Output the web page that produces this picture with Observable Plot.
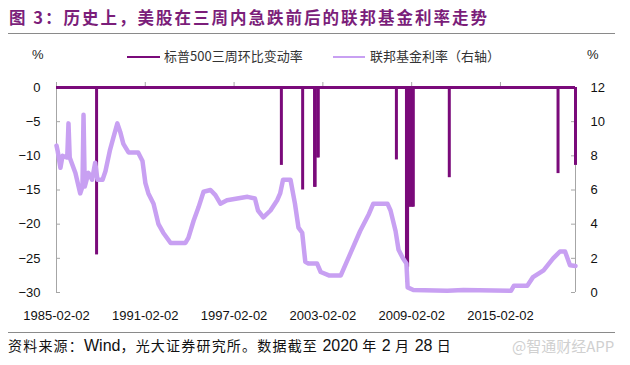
<!DOCTYPE html>
<html>
<head>
<meta charset="utf-8">
<script src="https://cdn.jsdelivr.net/npm/d3@7"></script>
<script src="https://cdn.jsdelivr.net/npm/@observablehq/plot@0.6"></script>
<style>
  html, body { margin: 0; padding: 0; background: #fff; }
  #wrap { position: relative; width: 630px; height: 365px; overflow: hidden; font-family: "Liberation Sans", Arial, sans-serif; }
  #wrap svg { position: absolute; left: 0; top: 0; }
  .abs { position: absolute; white-space: nowrap; }
  #title { left: 9px; top: 5px; font-family: "Noto Sans CJK SC", sans-serif; font-weight: bold; font-size: 16.5px; letter-spacing: 2px; color: #7b1e7a; line-height: 24px; }
  .hr { position: absolute; height: 1px; background: #8a8a8a; }
  .leg { font-family: "Noto Sans CJK SC", sans-serif; font-size: 13px; color: #333; line-height: 16px; }
  .legline { position: absolute; height: 2px; }
  .pct { font-size: 13px; color: #222; }
  #src { left: 8px; top: 335px; font-family: "Noto Sans CJK SC", sans-serif; font-size: 14px; letter-spacing: 1.2px; color: #111; line-height: 20px; }
  #src .l { font-family: "Liberation Sans", Arial, sans-serif; font-size: 16px; letter-spacing: 0; }
  #wm { left: 512px; top: 336px; font-family: "Noto Sans CJK SC", sans-serif; font-size: 15px; color: #d0d0d0; line-height: 20px; }
</style>
</head>
<body>
<div id="wrap">
  <div id="chart"></div>
  <div id="title" class="abs">图 3：历史上，美股在三周内急跌前后的联邦基金利率走势</div>
  <div class="hr" style="left:8px; top:33px; width:607px;"></div>
  <div class="abs pct" style="left:32px; top:47px;">%</div>
  <div class="abs pct" style="left:587px; top:47px;">%</div>
  <div class="legline" style="left:127px; top:56px; width:33px; background:#7a0a7a;"></div>
  <div class="abs leg" style="left:164px; top:48px;">标普500三周环比变动率</div>
  <div class="legline" style="left:333px; top:56px; width:32px; background:#c8a0f2;"></div>
  <div class="abs leg" style="left:370px; top:48px;">联邦基金利率（右轴）</div>
  <div class="hr" style="left:8px; top:332px; width:607px;"></div>
  <div id="src" class="abs">资料来源：<span class="l">Wind</span>，光大证券研究所。数据截至 <span class="l">2020</span> 年 <span class="l">2</span> 月 <span class="l">28</span> 日</div>
  <div id="wm" class="abs">@智通财经APP</div>
</div>
<script>
// ---- Data ----
const xStart = "1985-02-02";
const xEnd = "2020-02-28";
const xTickLabels = ["1985-02-02", "1991-02-02", "1997-02-02", "2003-02-02", "2009-02-02", "2015-02-02"];
const leftTicks = [0, -5, -10, -15, -20, -25, -30];
const rightTicks = [12, 10, 8, 6, 4, 2, 0];

// S&P 500 three-week change (only sharp drops shown; 0 otherwise), %
const dropDates = ["1987-10-19", "2000-04-14", "2001-09-21", "2002-07-12", "2002-07-26", "2002-09-27", "2002-10-11",
  "2008-01-22", "2008-09-26", "2008-10-10", "2008-10-24", "2008-11-21", "2008-12-19", "2009-01-23", "2009-02-27", "2009-03-13",
  "2011-08-19", "2018-12-24", "2020-02-28"];
const dropValues = [-24.5, -11.4, -15.0, -14.6, -14.6, -10.3, -10.3,
  -10.6, -26.3, -28.5, -26.3, -17.5, -17.5, -17.5, -17.5, -17.5,
  -13.2, -12.6, -11.4];

// Federal funds rate, % (right axis)
const fedDates = ["1985-02-02", "1985-03-01", "1985-05-10", "1985-07-01", "1985-10-25", "1985-11-25", "1985-12-25",
  "1986-05-15", "1986-09-10", "1986-11-05", "1986-12-01", "1986-12-31", "1987-04-01", "1987-06-30", "1987-09-15", "1987-11-10",
  "1988-03-15", "1988-05-25", "1988-09-10", "1988-12-10", "1989-03-15", "1989-05-25", "1989-08-10", "1989-12-15",
  "1990-08-10", "1990-11-25", "1991-02-05", "1991-04-20", "1991-08-25", "1991-12-25", "1992-04-20", "1992-10-20",
  "1993-04-10", "1993-10-20", "1994-01-01", "1994-05-10", "1994-09-10", "1995-01-10", "1995-07-01", "1995-10-30",
  "1996-03-01", "1996-08-10", "1997-04-20", "1997-12-30", "1998-07-01", "1998-09-15", "1999-01-25", "1999-07-20",
  "2000-01-01", "2000-03-15", "2000-05-25", "2000-11-25", "2001-03-15", "2001-06-10", "2001-09-10", "2001-11-25",
  "2002-02-10", "2002-09-10", "2002-12-10", "2003-07-01", "2004-04-20", "2004-07-01", "2004-12-15", "2005-08-10",
  "2006-03-15", "2006-07-01", "2007-06-15", "2007-08-30", "2008-01-01", "2008-03-15", "2008-07-01", "2008-09-25",
  "2008-10-25", "2009-03-15", "2011-07-01", "2012-08-01", "2015-10-20", "2016-01-01", "2016-11-25", "2017-04-15",
  "2018-01-01", "2018-08-25", "2019-02-10", "2019-06-15", "2019-10-15", "2020-02-28"];
const fedValues = [8.6, 8.3, 7.3, 8.0, 7.9, 9.9, 7.9,
  7.0, 5.8, 6.2, 10.4, 6.2, 7.0, 6.6, 7.6, 6.6,
  6.6, 7.1, 8.3, 9.1, 9.9, 9.4, 8.7, 8.2,
  8.2, 7.7, 6.4, 5.8, 5.2, 4.0, 3.5, 2.9,
  2.9, 2.9, 3.2, 4.2, 5.0, 5.9, 6.0, 5.7,
  5.2, 5.4, 5.5, 5.6, 5.5, 4.8, 4.4, 4.8,
  5.4, 5.8, 6.6, 6.6, 5.2, 3.8, 3.5, 1.8,
  1.7, 1.7, 1.2, 1.0, 1.0, 1.4, 2.3, 3.6,
  4.6, 5.2, 5.2, 4.8, 3.6, 2.5, 2.0, 1.7,
  0.3, 0.15, 0.1, 0.15, 0.1, 0.4, 0.4, 0.9,
  1.3, 2.0, 2.4, 2.4, 1.6, 1.55];

// ---- Build ----
const parse = d3.utcParse("%Y-%m-%d");
const drops = dropDates.map((d, i) => ({ date: parse(d), value: dropValues[i] }));
// right axis (0–12) mapped onto left axis (-30–0)
const toLeft = v => v * 2.5 - 30;
const toRight = v => (v + 30) / 2.5;
const fed = fedDates.map((d, i) => ({ date: parse(d), value: toLeft(fedValues[i]) }));
const xTicks = xTickLabels.map(parse);

const W = 630, H = 365, mL = 56, mR = 55, mT = 87, mB = 73;
const innerW = W - mL - mR, innerH = H - mT - mB;
const dark = "#7a0a7a", light = "#c8a0f2", axisGray = "#a6a6a6";

const chart = Plot.plot({
  width: W, height: H,
  marginLeft: mL, marginRight: mR, marginTop: mT, marginBottom: mB,
  style: { fontFamily: "'Liberation Sans', Arial, sans-serif", fontSize: "13px", color: "#111", background: "transparent" },
  x: { type: "utc", domain: [parse(xStart), parse(xEnd)], label: null },
  y: { domain: [-30, 0], label: null },
  marks: [
    // axis lines
    Plot.ruleX([parse(xStart), parse(xEnd)], { y1: -30, y2: 0, stroke: axisGray, strokeWidth: 1 }),
    // inner ticks left / right
    Plot.tickY(leftTicks, { y: d => d, stroke: axisGray, insetRight: innerW - 4 }),
    Plot.tickY(leftTicks, { y: d => d, stroke: axisGray, insetLeft: innerW - 4 }),
    // x ticks above the zero line
    Plot.tickX(xTicks, { x: d => d, stroke: axisGray, insetTop: -5, insetBottom: innerH }),
    // S&P 500 three-week change
    Plot.ruleX(drops, { x: "date", y1: 0, y2: "value", stroke: dark, strokeWidth: 3 }),
    Plot.ruleY([0], { stroke: dark, strokeWidth: 3 }),
    // Fed funds rate
    Plot.line(fed, { x: "date", y: "value", stroke: light, strokeWidth: 4.5, strokeLinejoin: "round", strokeLinecap: "round" }),
    // axes
    Plot.axisY(leftTicks, { anchor: "left", tickSize: 0, tickPadding: 16, fontSize: 13, label: null }),
    Plot.axisY(leftTicks, { anchor: "right", tickSize: 0, tickPadding: 15, fontSize: 13, label: null, tickFormat: d => String(toRight(d)) }),
    Plot.axisX(xTicks, { anchor: "bottom", tickSize: 0, tickPadding: 18, fontSize: 13, label: null, tickFormat: d3.utcFormat("%Y-%m-%d") })
  ]
});
document.getElementById("chart").appendChild(chart);
</script>
</body>
</html>
